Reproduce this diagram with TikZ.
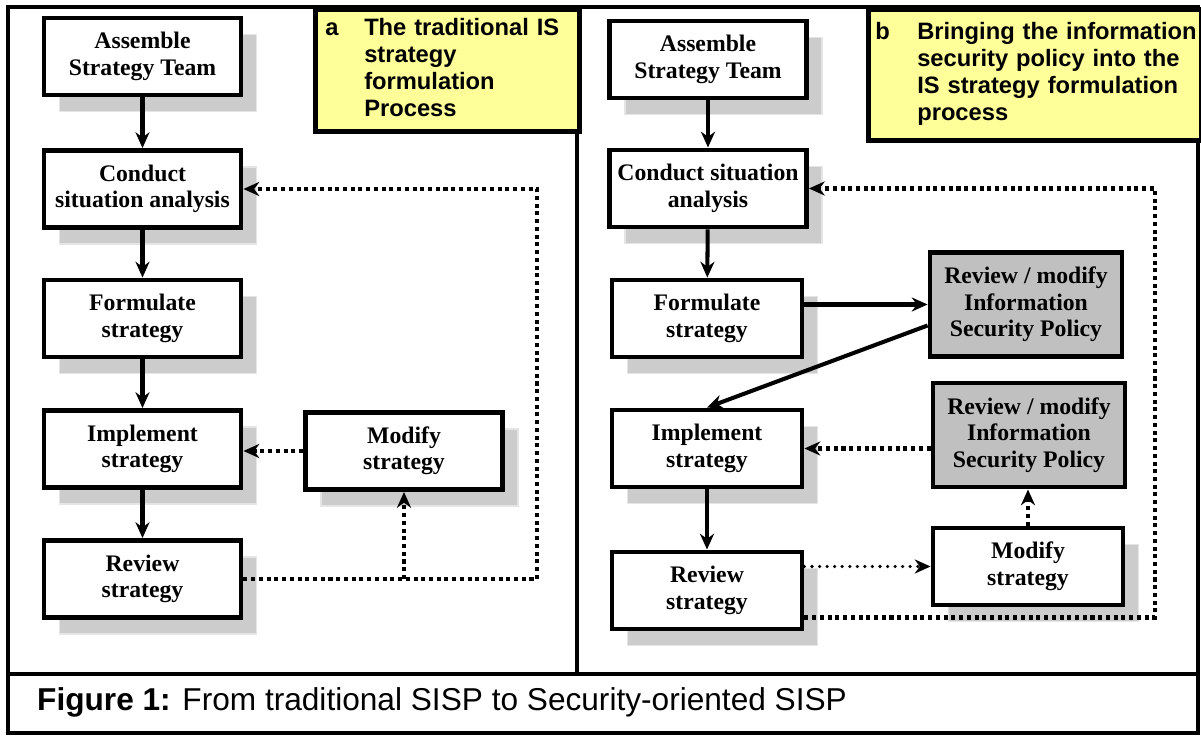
\documentclass[tikz,border=0pt]{standalone}
\usepackage{fontspec}
\setmainfont{Liberation Serif}
\newfontfamily\labelfont{Liberation Sans}
\usetikzlibrary{arrows.meta,shadows,calc}
\definecolor{policygray}{RGB}{192,192,192}
\definecolor{noteyellow}{RGB}{255,255,153}
\begin{document}
\begin{tikzpicture}[x=0.02cm,y=-0.02cm,
    procbox/.style={draw,line width=2.8pt,fill=white,minimum width=3.94cm,minimum height=1.54cm,
      align=center,inner sep=0pt,font=\bfseries\fontsize{13.5}{15.1}\selectfont},
    narrow/.style={minimum width=3.8cm},
    shadowed/.style={general shadow={fill=gray!40,draw=gray!20,line width=0.8pt,
      shadow xshift=0.31cm,shadow yshift=-0.33cm}},
    policybox/.style={procbox,fill=policygray,minimum width=3.84cm,minimum height=2.08cm},
    labelbox/.style={draw,line width=2.6pt,fill=noteyellow,anchor=north west,align=left,
      font=\labelfont\bfseries\fontsize{13.5}{15.4}\selectfont},
    flow/.style={line width=2.3pt,-{Stealth[length=9pt,width=8pt]}},
    loopdots/.style={flow,dash pattern=on 2.3pt off 2.1pt},
    thindots/.style={line width=2pt,dash pattern=on 0pt off 4.3pt,line cap=round,
      -{Stealth[length=9pt,width=8pt]}}]
  \useasboundingbox (0,0) rectangle (1201,736);
  % frame and panels
  \draw[line width=2pt] (8,7) rectangle (1198,733);
  \draw[line width=2pt] (577,7) -- (577,674);
  \draw[line width=2.6pt] (8,674) -- (1198,674);

  % a: traditional process
  \node[labelbox,text width=4.88cm,inner xsep=0.2cm,minimum height=2.44cm] (labA) at (313,7)
    {\begin{tabular}{@{}p{0.78cm}@{}l@{}}a & The traditional IS\\ & strategy\\ & formulation\\ & Process\end{tabular}};
  \node[procbox,shadowed] (ast1) at (142.5,56.5) {Assemble\\Strategy Team};
  \node[procbox,shadowed] (csa1) at (142.5,189) {Conduct\\situation analysis};
  \node[procbox,shadowed] (fs1) at (142.5,318.5) {Formulate\\strategy};
  \node[procbox,shadowed] (is1) at (142.5,449) {Implement\\strategy};
  \node[procbox,shadowed] (rs1) at (142.5,579) {Review\\strategy};
  \node[procbox,shadowed] (ms1) at (404,451) {Modify\\strategy};
  \coordinate (loopA) at (537,189);

  \draw[flow] (ast1) -- (csa1);
  \draw[flow] (csa1) -- (fs1);
  \draw[flow] (fs1) -- (is1);
  \draw[flow] (is1) -- (rs1);
  \draw[loopdots] (ms1.west) -- (ms1.west -| is1.east);
  \draw[loopdots] (rs1.east) -| (loopA) |- (csa1.east);
  \draw[loopdots] (ms1.south |- rs1.east) -- (ms1.south);

  % b: with the security policy
  \node[labelbox,text width=6.38cm,inner xsep=0.14cm,minimum height=2.62cm] (labB) at (866,7)
    {\begin{tabular}{@{}p{0.84cm}@{}l@{}}b & Bringing the information\\ & security policy into the\\ & IS strategy formulation\\ & process\end{tabular}};
  \node[procbox,shadowed] (ast2) at (708,59.5) {Assemble\\Strategy Team};
  \node[procbox,shadowed] (csa2) at (708,188.5) {Conduct situation\\analysis};
  \node[procbox,narrow,shadowed] (fs2) at (707,318.5) {Formulate\\strategy};
  \node[procbox,narrow,shadowed] (is2) at (707,448.5) {Implement\\strategy};
  \node[procbox,narrow,shadowed] (rs2) at (707,590.5) {Review\\strategy};
  \node[policybox] (isp1) at (1026,304.5) {Review / modify\\Information\\Security Policy};
  \node[policybox] (isp2) at (1029,435) {Review / modify\\Information\\Security Policy};
  \node[procbox,narrow,shadowed] (ms2) at (1028,566.5) {Modify\\strategy};
  \coordinate (loopB) at (1155,188.5);

  \draw[flow] (ast2) -- (csa2);
  \draw[flow] (csa2) -- (fs2);
  \draw[flow] (fs2.east |- isp1.west) -- (isp1.west);
  \draw[flow] ($(isp1.west)+(0,21)$) -- (is2.north);
  \draw[flow] (is2) -- (rs2);
  \draw[loopdots] (isp2.west |- is2.east) -- (is2.east);
  \draw[loopdots] (ms2.north) -- (ms2.north |- isp2.south);
  \draw[thindots] (rs2.east |- ms2.west) -- (ms2.west);
  \draw[loopdots] ($(rs2.east)+(0,27)$) -| (loopB) |- (csa2.east);

  % caption
  \node[anchor=base west,font=\labelfont\fontsize{18}{20}\selectfont] (cap) at (31,710)
    {\textbf{Figure 1:} From traditional SISP to Security-oriented SISP};
\end{tikzpicture}
\end{document}
